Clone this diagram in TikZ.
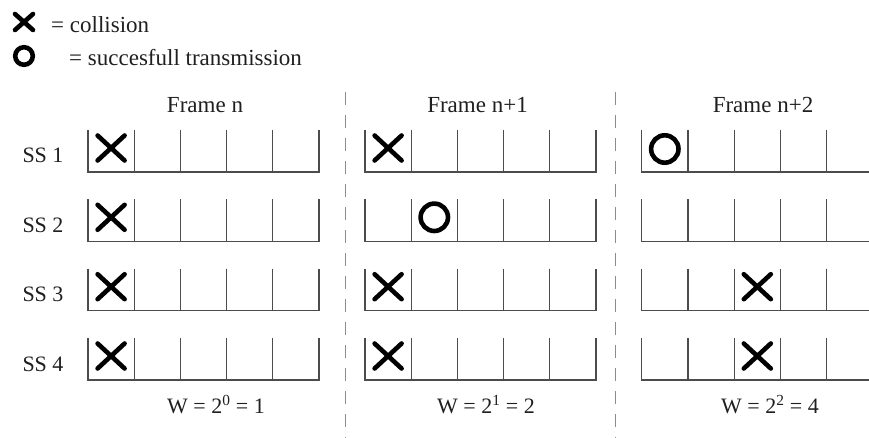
\documentclass[tikz,border=0pt]{standalone}
\usepackage{fontspec}
\setmainfont{Liberation Serif}
\begin{document}
\begin{tikzpicture}[x=1pt,y=-1pt,
  txt/.style={font=\fontsize{23}{27}\selectfont, inner sep=0pt, text=black!88},
  smalltxt/.style={txt, font=\fontsize{22}{26}\selectfont},
  slotline/.style={line width=1.3pt, draw=black!70},
  markline/.style={line width=4.6pt, line cap=round, draw=black},
  sepline/.style={line width=1.5pt, draw=black!45, dash pattern=on 13pt off 10pt},
]
\useasboundingbox (0,0) rectangle (869,438);

% legend
\coordinate (lx) at (24,22);
\coordinate (lo) at (24,56);
\draw[markline, shift={(lx)}] (-9,-8) -- (9,8) (-9,8) -- (9,-8);
\draw[markline] (lo) circle (8.8);
\node[txt, anchor=base west] (lxt) at (51,33) {= collision};
\node[txt, anchor=base west] (lot) at (69,66) {= succesfull transmission};

% frame separators
\coordinate (s1top) at (345.7,92);
\coordinate (s1bot) at (345.7,438);
\coordinate (s2top) at (615.5,92);
\coordinate (s2bot) at (615.5,438);
\draw[sepline] (s1top) -- (s1bot);
\draw[sepline] (s2top) -- (s2bot);

% frame titles
\node[txt, anchor=base] (fa) at (205,112.7) {Frame n};
\node[txt, anchor=base] (fb) at (477.5,112.7) {Frame n+1};
\node[txt, anchor=base] (fc) at (763,112.7) {Frame n+2};

% window sizes
\node[smalltxt, anchor=base] (wa) at (216,413) {W = 2\textsuperscript{0} = 1};
\node[smalltxt, anchor=base] (wb) at (486,413) {W = 2\textsuperscript{1} = 2};
\node[smalltxt, anchor=base] (wc) at (770,413) {W = 2\textsuperscript{2} = 4};

% station rows with their slots
\foreach \r/\yb in {1/172,2/241.3,3/310.7,4/380}{
  \node[smalltxt, anchor=base] (ss\r) at (43,\yb-9) {SS \r};
  \foreach \x in {88,365}{
    \draw[slotline] (\x,\yb-42) -- (\x,\yb) -- (\x+231,\yb) -- (\x+231,\yb-42);
    \foreach \k in {1,...,4}
      \draw[slotline] (\x+\k*46.2,\yb-42) -- (\x+\k*46.2,\yb);
  }
  \draw[slotline] (641.7,\yb-42) -- (641.7,\yb) -- (869,\yb);
  \foreach \k in {1,...,4}
    \draw[slotline] (641.7+\k*46.25,\yb-42) -- (641.7+\k*46.25,\yb);
}

% slot centres holding a mark
\coordinate (a1) at (111.1,148);
\coordinate (a2) at (111.1,217.3);
\coordinate (a3) at (111.1,286.7);
\coordinate (a4) at (111.1,356);
\coordinate (b1) at (388.1,148);
\coordinate (b2) at (434.3,217.3);
\coordinate (b3) at (388.1,286.7);
\coordinate (b4) at (388.1,356);
\coordinate (c1) at (664.8,149);
\coordinate (c3) at (757.3,286.7);
\coordinate (c4) at (757.3,356);

% collisions
\foreach \c in {a1,a2,a3,a4,b1,b3,b4,c3,c4}
  \draw[markline, shift={(\c)}] (-13.5,-12.5) -- (13.5,12.5) (-13.5,12.5) -- (13.5,-12.5);

% successful transmissions
\draw[markline] (b2) circle (13.7);
\draw[markline] (c1) circle (13.7);
\end{tikzpicture}
\end{document}
